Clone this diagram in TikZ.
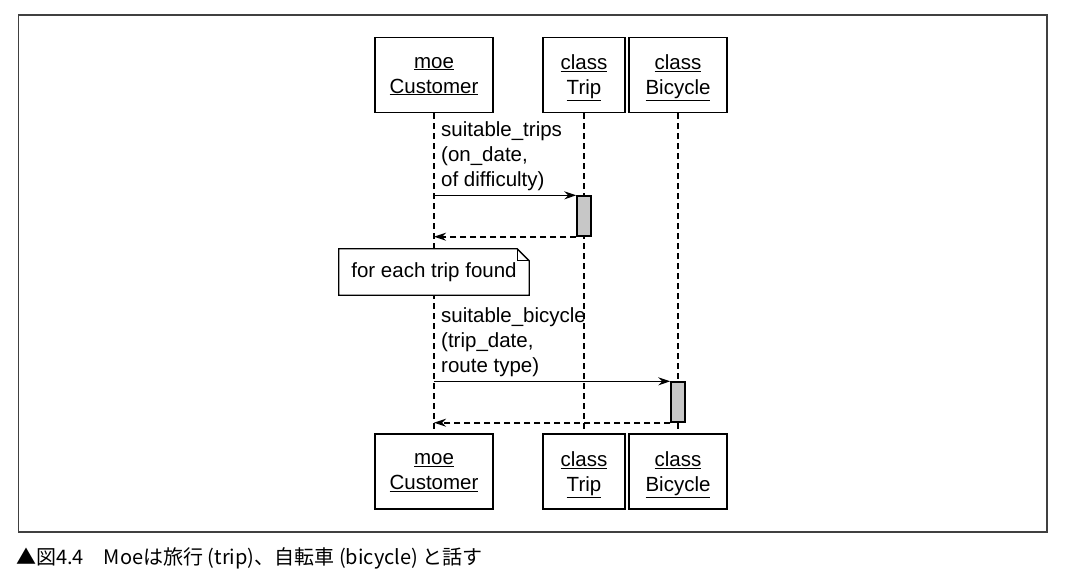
\documentclass[tikz,border=0pt]{standalone}
\usepackage{fontspec}
\setmainfont{Liberation Sans}
\newfontfamily\cjk{Noto Sans CJK JP}
\usetikzlibrary{arrows.meta,positioning}

\tikzset{
  obj/.style={draw, line width=1.7pt, align=center, minimum height=75pt, inner sep=0pt, text depth=0pt},
  life/.style={line width=1.4pt, dash pattern=on 6pt off 4pt},
  act/.style={draw, line width=1.4pt, fill=black!22, minimum width=14pt, minimum height=40pt, inner sep=0pt},
  msg/.style={align=left, inner sep=0pt},
  call/.style={->, line width=1.6pt},
  back/.style={->, line width=1.6pt, dash pattern=on 6pt off 4pt},
}

\begin{document}
\begin{tikzpicture}[> = {Stealth[length=12pt, width=8pt]}, x=1pt, y=-1pt, font=\fontsize{20.5}{25}\selectfont]
		\useasboundingbox (0,0) rectangle (1068,582);
		\draw[line width=1.3pt, black!75] (18.5,15) rectangle (1047,532);
		% objects, top and bottom
		\node[obj, minimum width=118pt] (cust) at (434,75) {\underline{moe}\\\underline{Customer}};
		\node[obj, minimum width=82pt] (trip) at (584,75) {\underline{class}\\\underline{Trip}};
		\node[obj, minimum width=98pt] (bike) at (678,75) {\underline{class}\\\underline{Bicycle}};
		\node[obj, minimum width=118pt] (custB) at (434,471.5) {\underline{moe}\\\underline{Customer}};
		\node[obj, minimum width=82pt] (tripB) at (584,471.5) {\underline{class}\\\underline{Trip}};
		\node[obj, minimum width=98pt] (bikeB) at (678,471.5) {\underline{class}\\\underline{Bicycle}};
		% lifelines
		\draw[life] (cust) -- (custB);
		\draw[life] (trip) -- (tripB);
		\draw[life] (bike) -- (bikeB);
		% activations
		\node[act] (tripA) at (584,216) {};
		\node[act] (bikeA) at (678,402) {};
		% first call
		\coordinate (s1) at (cust |- tripA.north west);
		\draw[call] (s1) -- (tripA.north west);
		\draw[back] (tripA.south west) -- (cust |- tripA.south west);
		\node[msg, above right=4pt and 7pt of s1, anchor=south west] (m1) {suitable\_trips\\(on\_date,\\of difficulty)};
		% note
		\node[minimum width=190pt, minimum height=46pt, inner sep=0pt] (note) at (434,272) {};
		\draw[line width=1.3pt, fill=white] (note.south west) -- (note.north west) -- ([xshift=-12pt]note.north east)
			-- ([yshift=-12pt]note.north east) -- (note.south east) -- cycle;
		\draw[line width=1.3pt] ([xshift=-12pt]note.north east) |- ([yshift=-12pt]note.north east);
		\node (noteT) at (note) {for each trip found};
		% second call
		\coordinate (s2) at (cust |- bikeA.north west);
		\draw[call] (s2) -- (bikeA.north west);
		\draw[back] (bikeA.south west) -- (cust |- bikeA.south west);
		\node[msg, above right=4pt and 7pt of s2, anchor=south west] (m2) {suitable\_bicycle\\(trip\_date,\\route type)};
		% caption
		\node[anchor=west, inner sep=0pt, font=\cjk\fontsize{20}{24}\selectfont] (cap) at (16,558) {▲図4.4　Moeは旅行 (trip)、自転車 (bicycle) と話す};
	\end{tikzpicture}
\end{document}
